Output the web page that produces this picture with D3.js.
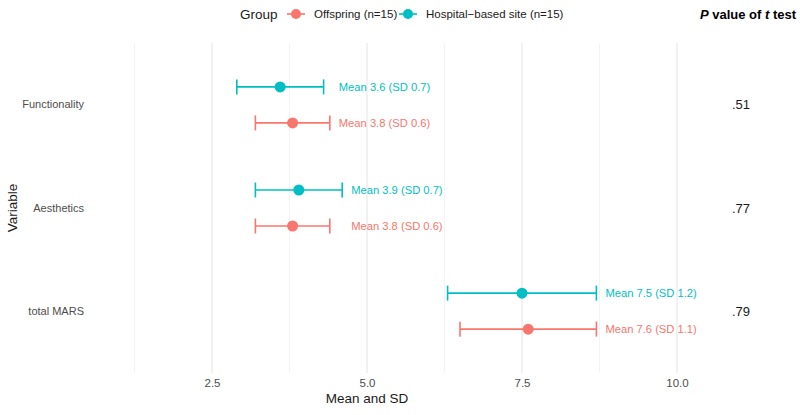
<!DOCTYPE html>
<html><head><meta charset="utf-8">
<script src="https://cdn.jsdelivr.net/npm/d3@7"></script>
<style>body{margin:0;background:#fff}svg{font-family:"Liberation Sans",Arial,sans-serif}</style>
</head><body><svg id="c" width="800" height="415"></svg>
<script>
const variables = ["Functionality", "Aesthetics", "total MARS"];
const groups = ["Offspring (n=15)", "Hospital\u2212based site (n=15)"];
const groupColors = ["#F8766D", "#00BFC4"];
const offspringMean = [3.8, 3.8, 7.6];
const offspringSD = [0.6, 0.6, 1.1];
const hospitalMean = [3.6, 3.9, 7.5];
const hospitalSD = [0.7, 0.7, 1.2];
const pValues = [".51", ".77", ".79"];
const xTicks = [2.5, 5.0, 7.5, 10.0];
const xMinor = [1.25, 3.75, 6.25, 8.75];

const svg = d3.select("#c");
const panel = {left: 90, right: 710, top: 43, bottom: 373};
const x = d3.scaleLinear().domain([5, 10]).range([367, 677]);
const y = d3.scaleBand().domain(variables).range([panel.top, panel.bottom]).paddingOuter(0.1).paddingInner(0);

const data = [];
variables.forEach((v, i) => {
  data.push({v, g: 0, mean: offspringMean[i], sd: offspringSD[i]});
  data.push({v, g: 1, mean: hospitalMean[i], sd: hospitalSD[i]});
});
const yc = d => y(d.v) + y.bandwidth() / 2 + (d.g === 0 ? 18 : -18);

// gridlines
const grid = svg.append("g");
grid.selectAll("line.minor").data(xMinor).join("line")
  .attr("x1", d => x(d)).attr("x2", d => x(d))
  .attr("y1", panel.top).attr("y2", panel.bottom)
  .attr("stroke", "#ebebeb").attr("stroke-width", 0.6);
grid.selectAll("line.major").data(xTicks).join("line")
  .attr("x1", d => x(d)).attr("x2", d => x(d))
  .attr("y1", panel.top).attr("y2", panel.bottom)
  .attr("stroke", "#e6e6e6").attr("stroke-width", 1.1);

// x axis
const xAxis = d3.axisBottom(x).tickValues(xTicks).tickFormat(d3.format(".1f")).tickSize(0).tickPadding(6);
const gx = svg.append("g").attr("transform", `translate(0,${panel.bottom})`).call(xAxis);
gx.select(".domain").remove();
gx.selectAll("text").attr("fill", "#4d4d4d").attr("font-size", 11.5);

// y axis
const yAxis = d3.axisLeft(y).tickSize(0).tickPadding(6);
const gy = svg.append("g").attr("transform", `translate(${panel.left},0)`).call(yAxis);
gy.select(".domain").remove();
gy.selectAll("text").attr("fill", "#4d4d4d").attr("font-size", 11);

// error bars
const eb = svg.append("g").selectAll("g").data(data).join("g")
  .attr("stroke", d => groupColors[d.g]).attr("stroke-width", 1.6);
eb.append("line").attr("x1", d => x(d.mean - d.sd)).attr("x2", d => x(d.mean + d.sd))
  .attr("y1", yc).attr("y2", yc);
eb.append("line").attr("x1", d => x(d.mean - d.sd)).attr("x2", d => x(d.mean - d.sd))
  .attr("y1", d => yc(d) - 7.5).attr("y2", d => yc(d) + 7.5);
eb.append("line").attr("x1", d => x(d.mean + d.sd)).attr("x2", d => x(d.mean + d.sd))
  .attr("y1", d => yc(d) - 7.5).attr("y2", d => yc(d) + 7.5);

svg.append("g").selectAll("circle").data(data).join("circle")
  .attr("cx", d => x(d.mean)).attr("cy", yc).attr("r", 5.5)
  .attr("fill", d => groupColors[d.g]);

// labels
const maxEnd = {};
data.forEach(d => { maxEnd[d.v] = Math.max(maxEnd[d.v] || 0, d.mean + d.sd); });
svg.append("g").selectAll("text").data(data).join("text")
  .attr("x", d => x(maxEnd[d.v]) + 9).attr("y", yc).attr("dy", "0.35em")
  .attr("fill", d => groupColors[d.g]).attr("font-size", 11.2)
  .text(d => `Mean ${d.mean.toFixed(1)} (SD ${d.sd.toFixed(1)})`);

// p values
svg.append("g").selectAll("text").data(variables).join("text")
  .attr("x", 741).attr("y", d => y(d) + y.bandwidth() / 2).attr("dy", "0.35em")
  .attr("text-anchor", "middle").attr("font-size", 13).attr("fill", "#1a1a1a")
  .text((d, i) => pValues[i]);

// titles
svg.append("text").attr("x", x(5)).attr("y", 403).attr("text-anchor", "middle")
  .attr("font-size", 13.5).attr("fill", "#1a1a1a").text("Mean and SD");
svg.append("text").attr("transform", `translate(17,${(panel.top + panel.bottom) / 2}) rotate(-90)`)
  .attr("text-anchor", "middle").attr("font-size", 13.5).attr("fill", "#1a1a1a").text("Variable");

const pt = svg.append("text").attr("x", 796).attr("y", 19).attr("text-anchor", "end")
  .attr("font-size", 13).attr("font-weight", "bold").attr("fill", "#000");
pt.append("tspan").attr("font-style", "italic").text("P");
pt.append("tspan").text(" value of ");
pt.append("tspan").attr("font-style", "italic").text("t");
pt.append("tspan").text(" test");

// legend
const lg = svg.append("g");
lg.append("text").attr("x", 240).attr("y", 19).attr("font-size", 13.5).attr("fill", "#1a1a1a").text("Group");
const legX = [296, 408];
groups.forEach((g, i) => {
  lg.append("line").attr("x1", legX[i] - 9).attr("x2", legX[i] + 9).attr("y1", 14).attr("y2", 14)
    .attr("stroke", groupColors[i]).attr("stroke-width", 1.6);
  lg.append("circle").attr("cx", legX[i]).attr("cy", 14).attr("r", 5).attr("fill", groupColors[i]);
  lg.append("text").attr("x", legX[i] + 18).attr("y", 18).attr("font-size", 11.5).attr("fill", "#1a1a1a").text(g);
});
</script></body></html>
